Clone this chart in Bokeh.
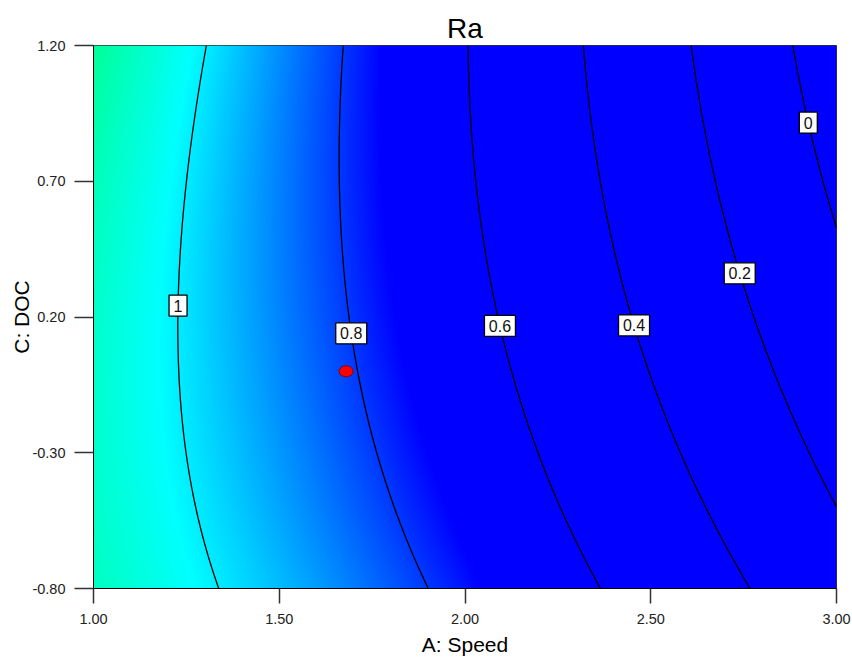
import numpy as np
from bokeh.plotting import figure
from bokeh.models import FixedTicker, PrintfTickFormatter, ColumnDataSource, Range1d
from bokeh.core.properties import value
from bokeh.embed import file_html
from bokeh.resources import INLINE

# Fitted quadratic response surface for Ra, in actual factor units:
# Ra = b0 + bA*A + bC*C + bAC*A*C + bAA*A^2 + bCC*C^2
ra_terms = ["Intercept", "A", "C", "AC", "A^2", "C^2"]
ra_coefs = [1.353, -0.1949, 0.1158, -0.1039, -0.075, 0.03625]

speed_range = [1.0, 3.0]
doc_range = [-0.8, 1.2]
speed_ticks = [1.0, 1.5, 2.0, 2.5, 3.0]
doc_ticks = [-0.8, -0.3, 0.2, 0.7, 1.2]

contour_levels = [0.0, 0.2, 0.4, 0.6, 0.8, 1.0]
tag_levels = [1.0, 0.8, 0.6, 0.4, 0.2, 0.0]
tag_text = ["1", "0.8", "0.6", "0.4", "0.2", "0"]
tag_doc = [0.242, 0.140, 0.167, 0.169, 0.361, 0.916]   # DOC at which each level is tagged

point_speed = [1.68]
point_doc = [0.0]

# colour ramp: Ra value -> RGB
ramp_ra = [0.74, 1.02, 1.34, 1.66, 1.98]
ramp_r = [0, 0, 0, 255, 255]
ramp_g = [0, 255, 255, 255, 0]
ramp_b = [255, 255, 0, 0, 0]

FONT = "Liberation Sans"


def ra(a, c):
    b0, ba, bc, bac, baa, bcc = ra_coefs
    return b0 + ba * a + bc * c + bac * a * c + baa * a ** 2 + bcc * c ** 2


def speed_on_level(level, c):
    """Speed at which the surface equals `level` for a given DOC."""
    b0, ba, bc, bac, baa, bcc = ra_coefs
    roots = np.roots([baa, ba + bac * c, b0 + bc * c + bcc * c ** 2 - level])
    roots = [r.real for r in roots if abs(r.imag) < 1e-9 and 0.5 <= r.real <= 3.5]
    return roots[0]


p = figure(width=852, height=660,
           x_range=Range1d(*speed_range), y_range=Range1d(*doc_range),
           output_backend="svg", toolbar_location=None, title="Ra",
           min_border_left=93, min_border_right=16,
           min_border_top=45, min_border_bottom=72)
p.background_fill_color = "white"
p.border_fill_color = "white"
p.outline_line_color = "#333333"
p.outline_line_width = 1
p.grid.visible = False

p.title.align = "center"
p.title.vertical_align = "top"
p.title.standoff = 0
p.title.text_line_height = 0.8
p.title.text_font = FONT
p.title.text_font_size = "28px"
p.title.text_font_style = "normal"
p.title.text_color = "black"

# shaded surface
nx, ny = 744, 544
ga = np.linspace(speed_range[0], speed_range[1], nx)
gc = np.linspace(doc_range[0], doc_range[1], ny)
AA, CC = np.meshgrid(ga, gc)
Z = ra(AA, CC)
img = np.empty((ny, nx), dtype=np.uint32)
view = img.view(dtype=np.uint8).reshape((ny, nx, 4))
view[..., 0] = np.round(np.interp(Z, ramp_ra, ramp_r))
view[..., 1] = np.round(np.interp(Z, ramp_ra, ramp_g))
view[..., 2] = np.round(np.interp(Z, ramp_ra, ramp_b))
view[..., 3] = 255
p.image_rgba(image=[img], x=speed_range[0], y=doc_range[0],
             dw=speed_range[1] - speed_range[0], dh=doc_range[1] - doc_range[0])

# contour lines
p.contour(x=ga, y=gc, z=Z, levels=contour_levels,
          line_color="black", line_width=1.3, fill_color=None)

# level tags
tag_speed = [speed_on_level(lv, c) for lv, c in zip(tag_levels, tag_doc)]
tag_w = [18 if len(t) == 1 else 31 for t in tag_text]
tags = ColumnDataSource(dict(x=tag_speed, y=tag_doc, t=tag_text, w=tag_w))
p.rect(x="x", y="y", width="w", height=21, width_units="screen", height_units="screen",
       fill_color="white", line_color="black", line_width=1.3, source=tags)
p.text(x="x", y="y", text="t", source=tags, text_align="center", text_baseline="middle",
       text_font=value(FONT), text_font_size="16px", text_color="#111111")

# design point
p.ellipse(x=point_speed, y=point_doc, width=14, height=11,
          width_units="screen", height_units="screen",
          fill_color="#ff0000", line_color="#8b0000", line_width=1)

# axes
for ax, ticks, out, stand in ((p.xaxis, speed_ticks, 15, 10), (p.yaxis, doc_ticks, 19, 9)):
    ax.ticker = FixedTicker(ticks=ticks)
    ax.formatter = PrintfTickFormatter(format="%.2f")
    ax.major_tick_out = out
    ax.major_tick_in = 0
    ax.minor_tick_line_color = None
    ax.major_tick_line_color = "#333333"
    ax.major_tick_line_width = 1.5
    ax.axis_line_color = "black"
    ax.axis_line_width = 1
    ax.major_label_standoff = stand
    ax.major_label_text_font = FONT
    ax.major_label_text_font_size = "14.5px"
    ax.major_label_text_color = "#222222"
    ax.axis_label_text_font = FONT
    ax.axis_label_text_font_size = "21px"
    ax.axis_label_text_font_style = "normal"
    ax.axis_label_text_color = "black"

p.xaxis.axis_label = "A: Speed"
p.yaxis.axis_label = "C: DOC"
p.xaxis.axis_label_standoff = 6
p.yaxis.axis_label_standoff = -4

open("out.html", "w").write(file_html(p, INLINE))
